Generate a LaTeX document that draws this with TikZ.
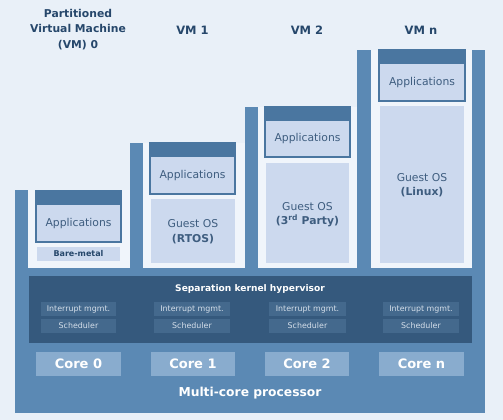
\documentclass[tikz,border=0pt]{standalone}
\usepackage{fontspec}
\setmainfont{DejaVu Sans}
\definecolor{bgc}{HTML}{E9F0F8}
\definecolor{panelc}{HTML}{F0F5FB}
\definecolor{basec}{HTML}{5B89B4}
\definecolor{headc}{HTML}{4A76A0}
\definecolor{appc}{HTML}{CCD9EE}
\definecolor{hypc}{HTML}{35597D}
\definecolor{intc}{HTML}{44698D}
\definecolor{inttxt}{HTML}{D5DFEA}
\definecolor{corec}{HTML}{89ACCE}
\definecolor{titlec}{HTML}{26476B}
\definecolor{apptxt}{HTML}{3E5D7F}
\newcommand{\fs}[2]{\fontsize{#1}{#2}\selectfont}
\begin{document}
\begin{tikzpicture}[x=1pt,y=-1pt,
  title/.style={text=titlec,font=\fs{10.8}{15.5}\bfseries,align=center,inner sep=0pt},
  apptext/.style={text=apptxt,font=\fs{10.8}{13},inner sep=0pt},
  ostext/.style={text=apptxt,font=\fs{10.8}{14.5},align=center,inner sep=0pt},
  inttext/.style={text=inttxt,font=\fs{7.9}{9},inner sep=0pt},
  coretext/.style={text=white,font=\fs{13}{15}\bfseries,inner sep=0pt},
  whitebold/.style={text=white,inner sep=0pt}]
\useasboundingbox (0,0) rectangle (503,420);
\fill[bgc] (0,0) rectangle (503,420);
% base processor and bars
\fill[basec] (15,268) rectangle (485,413);
\fill[basec] (15,190) rectangle (28,268);
\fill[basec] (130,143) rectangle (143,268);
\fill[basec] (245,107) rectangle (258,268);
\fill[basec] (357,50) rectangle (371,268);
\fill[basec] (472,50) rectangle (485,268);
% panels
\fill[panelc] (28,190) rectangle (130,268);
\fill[panelc] (143,143) rectangle (245,268);
\fill[panelc] (258,107) rectangle (357,268);
\fill[panelc] (371,50) rectangle (472,268);
% application boxes
\foreach \xa/\xb/\yt/\yb in {36/121/191/242, 150/235/143/194, 265/350/107/157, 379/465/50/101}{
  \filldraw[fill=appc,draw=headc,line width=1.3pt] (\xa,\yt) rectangle (\xb,\yb);
  \fill[headc] (\xa,\yt) rectangle (\xb,\yt+14);
}
\node[apptext] (app0) at (78.5,224) {Applications};
\node[apptext] (app1) at (192.5,175.5) {Applications};
\node[apptext] (app2) at (307.5,139) {Applications};
\node[apptext] (appn) at (422,82.5) {Applications};
% bare metal
\fill[appc] (37,247) rectangle (120,261);
\node[text=titlec,font=\fs{8}{9}\bfseries,inner sep=0pt] (bare) at (78.5,254) {Bare-metal};
% guest OS
\fill[appc] (151,199) rectangle (235,263);
\fill[appc] (266,163) rectangle (349,263);
\fill[appc] (380,106) rectangle (464,263);
\node[ostext] (os1) at (193,231.5) {Guest OS\\{\bfseries (RTOS)}};
\node[ostext] (os2) at (307.5,214.5) {Guest OS\\{\bfseries (3\textsuperscript{rd} Party)}};
\node[ostext] (osn) at (422,185) {Guest OS\\{\bfseries (Linux)}};
% hypervisor
\fill[hypc] (29,276) rectangle (472,343);
\node[whitebold,font=\fs{9.1}{11}\bfseries] (hyp) at (250,289.5) {Separation kernel hypervisor};
\foreach \xa/\xb/\nm in {41/116/0, 154/230/1, 269/346/2, 383/459/n}{
  \fill[intc] (\xa,302) rectangle (\xb,316);
  \fill[intc] (\xa,319) rectangle (\xb,333);
  \node[inttext] (int\nm) at ({(\xa+\xb)/2},309) {Interrupt mgmt.};
  \node[inttext] (sch\nm) at ({(\xa+\xb)/2},326) {Scheduler};
}
% cores
\foreach \xa/\xb/\nm in {36/121/0, 151/235/1, 265/349/2, 379/464/n}{
  \fill[corec] (\xa,352) rectangle (\xb,376);
  \node[coretext] (core\nm) at ({(\xa+\xb)/2},364) {Core \nm};
}
\node[whitebold,font=\fs{12.3}{14}\bfseries] (mcp) at (250,393.5) {Multi-core processor};
% titles
\node[title] (t0) at (78,29.5) {Partitioned\\Virtual Machine\\(VM) 0};
\node[title,font=\fs{11.5}{14}\bfseries] (t1) at (192.5,30) {VM 1};
\node[title,font=\fs{11.5}{14}\bfseries] (t2) at (307,30) {VM 2};
\node[title,font=\fs{11.5}{14}\bfseries] (tn) at (421,30) {VM n};
\end{tikzpicture}
\end{document}
